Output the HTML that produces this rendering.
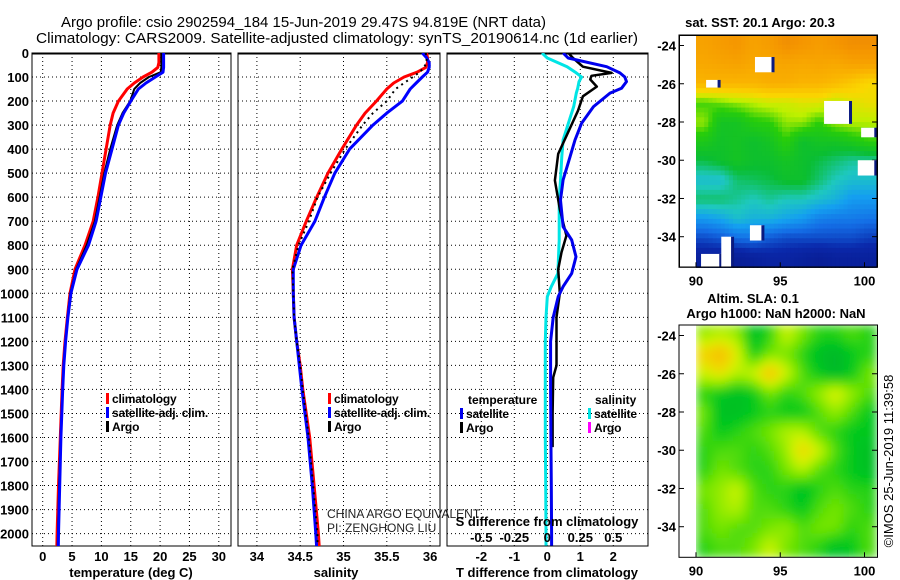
<!DOCTYPE html>
<html><head><meta charset="utf-8"><style>
html,body{margin:0;padding:0;background:#fff;}
svg{display:block;font-family:"Liberation Sans",sans-serif;}
</style></head><body>
<svg id="fig" width="900" height="580" viewBox="0 0 900 580">
<defs>
<clipPath id="c1"><rect x="32" y="53" width="199" height="493"/></clipPath>
<clipPath id="c2"><rect x="238" y="53" width="202" height="493"/></clipPath>
<clipPath id="c3"><rect x="447" y="53" width="201" height="493"/></clipPath>
<clipPath id="cm2"><rect x="696" y="325" width="182" height="232"/></clipPath>
<filter id="blur" x="-5%" y="-5%" width="110%" height="110%"><feGaussianBlur stdDeviation="5"/></filter>
</defs>
<text x="61" y="27" textLength="485" lengthAdjust="spacingAndGlyphs" font-size="15">Argo profile: csio 2902594_184 15-Jun-2019 29.47S 94.819E (NRT data)</text>
<text x="36" y="43" textLength="602" lengthAdjust="spacingAndGlyphs" font-size="15">Climatology: CARS2009. Satellite-adjusted climatology: synTS_20190614.nc (1d earlier)</text>
<g id="g"></g>
</svg>
<script>
// ---------- data ----------
const depthTicks=[0,100,200,300,400,500,600,700,800,900,1000,1100,1200,1300,1400,1500,1600,1700,1800,1900,2000];
const tDepth=[0,20,40,60,80,100,125,150,200,250,300,400,500,600,700,800,900,1000,1100,1200,1300,1400,1600,1800,2000,2060];
const tClim=[19.8,19.8,19.8,19.6,18.6,17.1,15.6,14.4,12.9,12.0,11.5,10.8,10.1,9.4,8.6,7.2,5.5,4.65,4.2,3.8,3.5,3.3,3.0,2.7,2.45,2.4];
const tSat=[20.6,20.6,20.6,20.6,20.5,19.2,17.6,16.3,15.0,13.8,12.9,11.8,10.7,9.9,9.1,7.8,5.85,4.8,4.3,3.9,3.6,3.4,3.1,2.9,2.7,2.65];
const tArgo=[20.2,20.2,20.2,20.2,20.1,18.1,16.6,15.6,14.9,13.6,12.7,11.5,10.5,9.7,8.9,7.5,5.7,4.7,4.25,3.85,3.55,3.35,3.05,2.8,2.6,2.55];
const sClim=[35.96,35.97,35.97,35.95,35.85,35.7,35.58,35.5,35.38,35.25,35.15,34.98,34.82,34.69,34.57,34.46,34.41,34.42,34.43,34.46,34.5,34.53,34.61,34.66,34.71,34.72];
const sSat=[35.91,35.96,35.99,35.99,35.97,35.91,35.84,35.77,35.68,35.5,35.34,35.07,34.9,34.78,34.67,34.51,34.42,34.42,34.43,34.46,34.49,34.52,34.59,34.64,34.68,34.69];
const sArgo=[35.95,35.96,35.96,35.93,35.88,35.8,35.7,35.6,35.5,35.34,35.22,35.02,34.85,34.7,34.6,34.48,34.41,34.42,34.43,34.46,34.5,34.53,34.6,34.65,34.7,34.7];
const dDepth=[0,21,57,83,100,119,147,167,223,292,362,431,528,612,723,778,848,917,972,1014,1100,1200,1400,1600,1800,2000,2050];
const dTSat=[0.48,0.63,1.8,2.2,2.35,2.4,2.25,1.9,1.4,1.04,0.84,0.69,0.48,0.4,0.48,0.74,0.87,0.74,0.48,0.33,0.18,0.1,0.1,0.11,0.12,0.13,0.13];
const dTArgoDepth=[0,21,57,83,95,110,140,180,240,330,420,530,650,760,830,900,1000,1100,1200,1300,1350,1500,1640];
const dTArgo=[0.64,0.78,1.08,1.95,1.34,1.3,1.5,1.08,0.93,0.63,0.33,0.23,0.38,0.58,0.43,0.33,0.38,0.28,0.28,0.28,0.18,0.16,0.16];
const dSSat=[-0.04,0.0,0.15,0.22,0.26,0.24,0.23,0.22,0.2,0.16,0.12,0.11,0.1,0.09,0.09,0.09,0.085,0.08,0.03,0.0,-0.01,-0.015,-0.015,-0.015,-0.012,-0.01,-0.01];
const tTicks=[0,5,10,15,20,25,30];
const sTicks=[34,34.5,35,35.5,36];
const dTTicks=[-2,-1,0,1,2];
const dSTicks=[-0.5,-0.25,0,0.25,0.5];
const latTicks=[-24,-26,-28,-30,-32,-34];
const lonTicks=[90,95,100];
const sstGrid=[
[0.86,0.88,0.9,0.86,0.88,0.92,0.9,0.88,0.9,0.92,0.92],
[0.84,0.85,0.86,0.84,0.84,0.85,0.84,0.85,0.84,0.86,0.86],
[0.8,0.8,0.8,0.8,0.82,0.82,0.8,0.8,0.78,0.74,0.7],
[0.56,0.58,0.6,0.62,0.64,0.64,0.66,0.66,0.62,0.66,0.68],
[0.6,0.5,0.5,0.54,0.55,0.6,0.6,0.55,0.6,0.62,0.62],
[0.52,0.49,0.5,0.48,0.5,0.55,0.48,0.5,0.5,0.52,0.55],
[0.46,0.48,0.5,0.48,0.48,0.5,0.48,0.46,0.44,0.42,0.42],
[0.38,0.38,0.44,0.45,0.46,0.48,0.48,0.44,0.4,0.38,0.38],
[0.44,0.44,0.42,0.4,0.42,0.4,0.4,0.38,0.36,0.32,0.32],
[0.32,0.34,0.38,0.36,0.36,0.34,0.32,0.28,0.27,0.27,0.26],
[0.2,0.22,0.25,0.26,0.22,0.2,0.2,0.2,0.2,0.2,0.18],
[0.1,0.1,0.08,0.1,0.12,0.12,0.1,0.08,0.1,0.1,0.1]];
const slaGrid=[
[0.5,0.55,0.5,0.25,0.35,0.6,0.45,0.35,0.35,0.4,0.35],
[0.75,0.85,0.65,0.3,0.45,0.45,0.35,0.25,0.2,0.3,0.35],
[0.6,0.7,0.55,0.6,0.85,0.6,0.4,0.3,0.2,0.3,0.45],
[0.35,0.3,0.25,0.3,0.45,0.35,0.4,0.5,0.65,0.5,0.4],
[0.45,0.25,0.25,0.3,0.35,0.3,0.3,0.4,0.5,0.4,0.3],
[0.4,0.3,0.35,0.4,0.45,0.55,0.55,0.4,0.35,0.3,0.3],
[0.35,0.4,0.4,0.35,0.4,0.5,0.75,0.6,0.4,0.3,0.25],
[0.35,0.45,0.4,0.35,0.35,0.45,0.55,0.4,0.35,0.3,0.25],
[0.45,0.5,0.6,0.4,0.35,0.35,0.25,0.35,0.4,0.35,0.35],
[0.4,0.5,0.55,0.4,0.4,0.35,0.3,0.4,0.45,0.4,0.35],
[0.4,0.45,0.4,0.4,0.45,0.5,0.4,0.45,0.45,0.35,0.4],
[0.35,0.4,0.4,0.45,0.6,0.45,0.4,0.35,0.25,0.3,0.4]];
const nanLon0=[93.5,90.6,97.6,99.6,93.2,90.3,91.5,99.8];
const nanLon1=[94.6,91.4,99.2,100.7,94.0,91.5,92.2,100.7];
const nanLat0=[-24.6,-25.8,-26.9,-30.0,-33.4,-34.9,-34.0,-28.3];
const nanLat1=[-25.4,-26.2,-28.1,-30.8,-34.2,-35.6,-35.6,-28.8];

// ---------- helpers ----------
const NS='http://www.w3.org/2000/svg';
const G=document.getElementById('g');
function mk(tag,attrs,parent){const e=document.createElementNS(NS,tag);for(const k in attrs)e.setAttribute(k,attrs[k]);(parent||G).appendChild(e);return e;}
function txt(x,y,s,size,anchor,bold,parent){const e=mk('text',{x:x,y:y,'font-size':size,'text-anchor':anchor||'start','font-weight':bold?'bold':'normal'},parent);e.textContent=s;return e;}
const yD=d=>53+d*0.2403;
const xT=t=>42.7+t*5.87;
const xS=s=>256.9+(s-34)*86.6;
const xdT=v=>547.3+v*33;
const xdS=v=>547.3+v*132;
function path(xs,ds,fx,parent,color,w,dash,name){
  let p='';for(let i=0;i<xs.length;i++)p+=(i?'L':'M')+fx(xs[i]).toFixed(1)+','+yD(ds[i]).toFixed(1);
  const a={d:p,fill:'none',stroke:color,'stroke-width':w,'stroke-linejoin':'round'};if(dash)a['stroke-dasharray']=dash;
  const e=mk('path',a,parent);
  
  
  return e;
}
function panel(x0,x1,gridXs,clip,name){
  const g=mk('g',{});
  
  
  depthTicks.forEach(d=>{if(d>0)mk('line',{x1:x0,x2:x1,y1:yD(d),y2:yD(d),stroke:'#000','stroke-width':1,'stroke-dasharray':'1,3'},g);});
  gridXs.forEach(x=>mk('line',{x1:x,x2:x,y1:53,y2:546,stroke:'#000','stroke-width':1,'stroke-dasharray':'1,3'},g));
  mk('rect',{x:x0,y:53,width:x1-x0,height:493,fill:'none',stroke:'#000','stroke-width':1},g);
  mk('line',{x1:x0,x2:x1,y1:53.5,y2:53.5,stroke:'#000','stroke-width':2},g);
  return mk('g',{'clip-path':'url(#'+clip+')'},g);
}
function legendItem(x,y,color,label,name){
  const g=mk('g',{});
  
  
  mk('rect',{x:x,y:y-10,width:3,height:11,fill:color},g);
  const t=txt(x+6,y,label,12,'start',true,g);
  t.setAttribute('letter-spacing','-0.2');
}

// ---------- panel 1 temperature ----------
const p1=panel(32,231,tTicks.map(xT),'c1','temperature-panel');
path(tClim,tDepth,xT,p1,'#ff0000',3,null,'climatology-temperature-line');
path(tArgo,tDepth,xT,p1,'#000',2,null,'argo-temperature-line');
path(tSat,tDepth,xT,p1,'#0000ff',3,null,'satellite-temperature-line');
depthTicks.forEach(d=>{const t=txt(29,yD(d)+5,String(d),13,'end',true);
  
  });
tTicks.forEach(v=>{const t=txt(xT(v),561,String(v),13,'middle',true);
  
  });
txt(131,577,'temperature (deg C)',13,'middle',true);
legendItem(106,403,'#ff0000','climatology','legend-climatology');
legendItem(106,417,'#0000ff','satellite-adj. clim.','legend-satellite');
legendItem(106,431,'#000','Argo','legend-argo');

// ---------- panel 2 salinity ----------
const p2=panel(238,440,sTicks.map(xS),'c2','salinity-panel');
path(sClim,tDepth,xS,p2,'#ff0000',3,null,'climatology-salinity-line');
path(sSat,tDepth,xS,p2,'#0000ff',3,null,'satellite-salinity-line');
path(sArgo,tDepth,xS,p2,'#000',2,'2,4','argo-salinity-line');
sTicks.forEach(v=>{const t=txt(xS(v),561,String(v),13,'middle',true);
  
  });
txt(336,577,'salinity',13,'middle',true);
legendItem(328,403,'#ff0000','climatology','legend-climatology-2');
legendItem(328,417,'#0000ff','satellite-adj. clim.','legend-satellite-2');
legendItem(328,431,'#000','Argo','legend-argo-2');
const ca=txt(327,518,'CHINA ARGO EQUIVALENT',12,'start',false);ca.setAttribute('fill','#222');
const pi=txt(327,532,'PI: ZENGHONG LIU',12,'start',false);pi.setAttribute('fill','#222');

// ---------- panel 3 differences ----------
const p3=panel(447,648,dTTicks.map(xdT),'c3','difference-panel');
path(dSSat,dDepth,xdS,p3,'#00e5e5',3,null,'salinity-satellite-diff-line');
path(dTArgo,dTArgoDepth,xdT,p3,'#000',2.5,null,'temperature-argo-diff-line');
path(dTSat,dDepth,xdT,p3,'#0000ee',3,null,'temperature-satellite-diff-line');
dTTicks.forEach(v=>{const t=txt(xdT(v),561,String(v),13,'middle',true);
  
  });
dSTicks.forEach(v=>{const t=txt(xdS(v),542,String(v),13,'middle',true);
  
  });
txt(547,526,'S difference from climatology',13,'middle',true);
txt(547,577,'T difference from climatology',13,'middle',true);
txt(468,404,'temperature',12,'start',true);
txt(595,404,'salinity',12,'start',true);
legendItem(460,418,'#0000ee','satellite','legend-t-satellite');
legendItem(460,432,'#000','Argo','legend-t-argo');
legendItem(588,418,'#00e5e5','satellite','legend-s-satellite');
legendItem(588,432,'#ff00ff','Argo','legend-s-argo');

// ---------- maps ----------
const mx=lon=>696+(lon-90)*16.85;
function lerpColor(stops,v){v=Math.max(0,Math.min(1,v));for(let i=1;i<stops.length;i++){if(v<=stops[i][0]){const a=stops[i-1],b=stops[i],f=(v-a[0])/(b[0]-a[0]);return 'rgb('+[1,2,3].map(k=>Math.round(a[k]+(b[k]-a[k])*f)).join(',')+')';}}const l=stops[stops.length-1];return 'rgb('+l[1]+','+l[2]+','+l[3]+')';}
const sstStops=[[0,8,20,130],[0.15,10,40,170],[0.25,20,110,230],[0.33,20,160,240],[0.4,30,200,190],[0.47,10,190,50],[0.55,40,205,10],[0.62,190,240,0],[0.7,250,215,0],[0.8,250,180,0],[0.9,245,150,0],[1,225,115,10]];
const slaStops=[[0,0,150,70],[0.3,0,200,30],[0.45,120,230,0],[0.6,210,245,0],[0.75,245,210,0],[1,240,140,0]];
function drawMap(top,bottom,grid,stops,name,blur,clip){
  const lat0=-23.45,lat1=-35.6,my=lat=>top+(lat0-lat)/(lat0-lat1)*(bottom-top);
  const wrap=mk('g',clip?{'clip-path':'url(#'+clip+')'}:{});
  
  
  const g=mk('g',blur?{filter:'url(#blur)'}:{},wrap);
  const R=grid.length,C=grid[0].length,sub=4;
  const lonA=90,lonB=100.7;
  for(let r=0;r<R*sub;r++)for(let c=0;c<C*sub;c++){
    const fr=Math.min(R-1,Math.max(0,(r+0.5)/sub-0.5)),fc=Math.min(C-1,Math.max(0,(c+0.5)/sub-0.5));
    const r0=Math.floor(fr),c0=Math.floor(fc),r1=Math.min(R-1,r0+1),c1=Math.min(C-1,c0+1),ar=fr-r0,ac=fc-c0;
    const v=grid[r0][c0]*(1-ar)*(1-ac)+grid[r0][c1]*(1-ar)*ac+grid[r1][c0]*ar*(1-ac)+grid[r1][c1]*ar*ac;
    const x0=mx(lonA+(lonB-lonA)*c/(C*sub)),x1=mx(lonA+(lonB-lonA)*(c+1)/(C*sub));
    const y0=my(lat0+(lat1-lat0)*r/(R*sub)),y1=my(lat0+(lat1-lat0)*(r+1)/(R*sub));
    mk('rect',{x:x0.toFixed(1),y:y0.toFixed(1),width:(x1-x0+0.6).toFixed(1),height:(y1-y0+0.6).toFixed(1),fill:lerpColor(stops,v)},g);
  }
  mk('rect',{x:679,y:top,width:198.5,height:bottom-top,fill:'none',stroke:'#000','stroke-width':1});
  latTicks.forEach(l=>{mk('line',{x1:679,x2:684,y1:my(l),y2:my(l),stroke:'#000'});mk('line',{x1:872,x2:877.5,y1:my(l),y2:my(l),stroke:'#000'});
    const t=txt(676,my(l)+5,String(l),13,'end',true);
    
    });
  lonTicks.forEach(l=>{mk('line',{x1:mx(l),x2:mx(l),y1:bottom,y2:bottom-5,stroke:'#000'});
    const t=txt(mx(l),bottom+18,String(l),13,'middle',true);
    
    });
  return my;
}
const my1=drawMap(35,267.3,sstGrid,sstStops,'sst-map',false,null);
for(let i=0;i<nanLon0.length;i++){
  const r=mk('rect',{x:mx(nanLon0[i]),y:my1(nanLat0[i]),width:mx(nanLon1[i])-mx(nanLon0[i]),height:my1(nanLat1[i])-my1(nanLat0[i]),fill:'#fff'});
  
  
  mk('rect',{x:mx(nanLon1[i])-2,y:my1(nanLat0[i]),width:3,height:my1(nanLat1[i])-my1(nanLat0[i]),fill:'#0a1a80'});
}
mk('rect',{x:679.5,y:35.5,width:197.5,height:231.5,fill:'none',stroke:'#000'});
txt(760,27,'sat. SST: 20.1 Argo: 20.3',13,'middle',true);
drawMap(325,557.3,slaGrid,slaStops,'sla-map',true,'cm2');
txt(753,303,'Altim. SLA: 0.1',13,'middle',true);
txt(776,318,'Argo h1000: NaN h2000: NaN',13,'middle',true);
const cr=txt(0,0,'©IMOS 25-Jun-2019 11:39:58',13,'middle',false);
cr.setAttribute('transform','translate(893,461) rotate(-90)');


</script>
</body></html>
